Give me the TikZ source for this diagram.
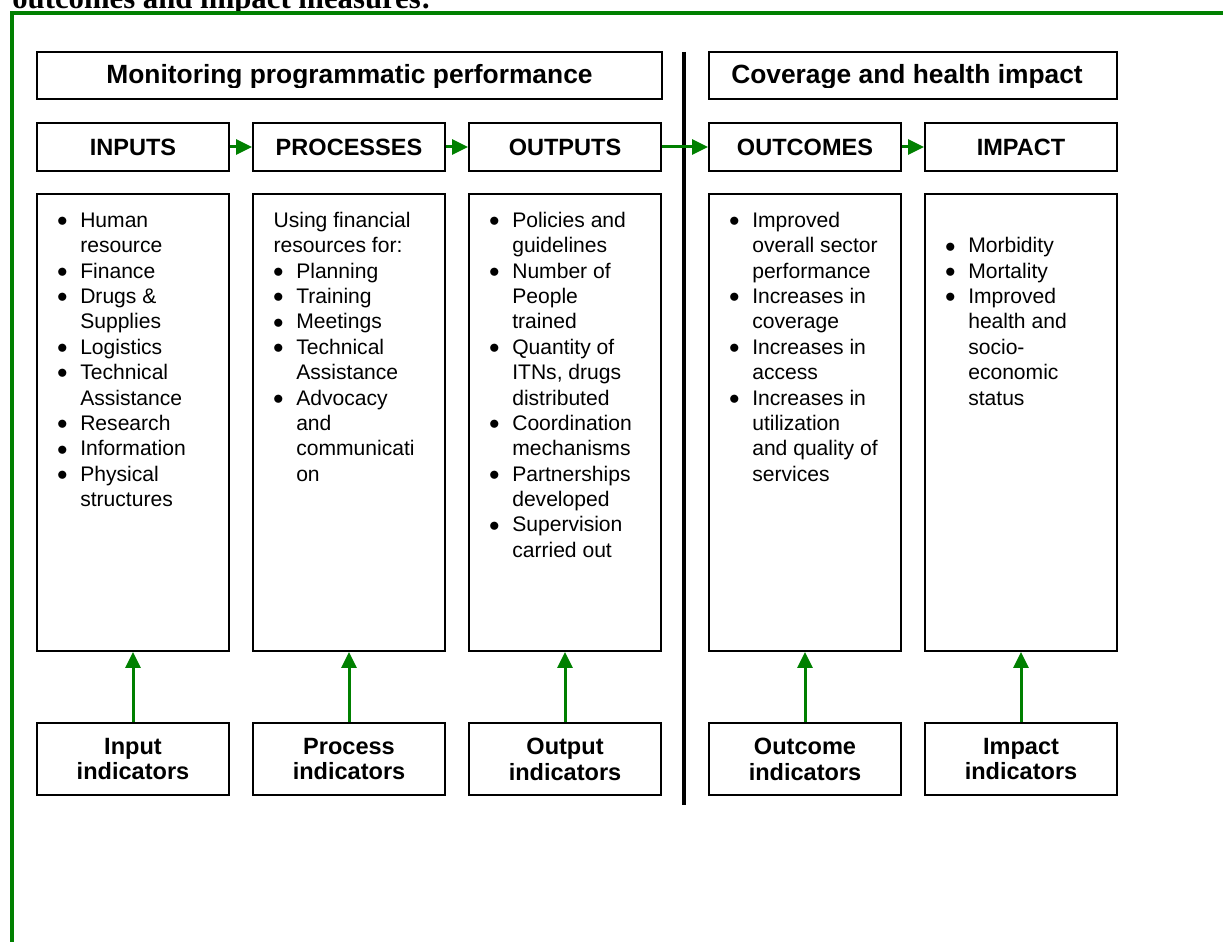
\documentclass[tikz,border=0pt]{standalone}
\usepackage{fontspec}
\setmainfont{Liberation Sans}
\newfontfamily\titlefont{Liberation Serif}
\usetikzlibrary{arrows.meta,positioning}

\definecolor{frgreen}{RGB}{0,128,0}

% bullet lines in the list boxes
\newlength{\bulgap}
\setlength{\bulgap}{12.93pt}
\newcommand{\fl}{\rule{0pt}{10pt}}
\newcommand{\itm}[1]{\makebox[\bulgap][l]{\hspace*{-0.3pt}\raisebox{0.4pt}{$\bullet$}}#1}
\newcommand{\cnt}[1]{\hspace*{\bulgap}#1}

\tikzset{
  % hbox is the style of the stage boxes, lbox of the list boxes below them
  hbox/.style={draw, rectangle, line width=0.04cm, inner sep=0pt,
  minimum width=3.84cm, minimum height=0.96cm,
  font=\fontsize{13.4pt}{14.7pt}\selectfont\bfseries},
  tbox/.style={draw, rectangle, line width=0.04cm, inner sep=0pt,
  minimum height=0.94cm},
  lbox/.style={draw, rectangle, line width=0.04cm, inner sep=0pt,
  minimum width=3.84cm, minimum height=9.14cm},
  ibox/.style={draw, rectangle, line width=0.04cm, inner sep=0pt,
  minimum width=3.84cm, minimum height=1.44cm, align=center,
  font=\fontsize{13.4pt}{14.7pt}\selectfont\bfseries},
  ltext/.style={anchor=north west, inner sep=0pt, align=left,
  font=\fontsize{12pt}{14.45pt}\selectfont},
  flow/.style={frgreen, line width=0.06cm, -{Triangle[length=0.32cm, width=0.3cm]}}}

\begin{document}
\begin{tikzpicture}[x=0.02cm, y=-0.02cm]

\useasboundingbox (0,0) rectangle (1223,942);

% frame and cut title
\node (title) [anchor=base west, inner sep=0pt, font=\titlefont\bfseries\fontsize{17.5pt}{20pt}\selectfont] at (12,9) {outcomes and impact measures:};
\draw [frgreen, line width=0.08cm] (12,960) -- (12,13) -- (1240,13);

% top boxes
\node (mon) [tbox, minimum width=12.5cm] at (349.5,75.5) {};
\node (cov) [tbox, minimum width=8.16cm] at (913,75.5) {};
\begin{scope}
\clip (37,52) rectangle (1117,88);
\node (montext) [anchor=base, inner sep=0pt, font=\fontsize{15pt}{16pt}\selectfont\bfseries] at (349.5,84) {Monitoring programmatic performance};
\node (covtext) [anchor=base, inner sep=0pt, font=\fontsize{15pt}{16pt}\selectfont\bfseries] at (907,84) {Coverage and health impact};
\end{scope}

% divider
\draw [line width=0.08cm] (684,52) -- (684,805);

% stage boxes
\node (inputs) [hbox] at (133,147) {INPUTS};
\node (processes) [hbox] at (349,147) {PROCESSES};
\node (outputs) [hbox] at (565,147) {OUTPUTS};
\node (outcomes) [hbox] at (805,147) {OUTCOMES};
\node (impact) [hbox] at (1021,147) {IMPACT};

\draw [flow] (inputs) -- (processes);
\draw [flow] (processes) -- (outputs);
\draw [flow] (outputs) -- (outcomes);
\draw [flow] (outcomes) -- (impact);

% list boxes
\node (inlist) [lbox] at (133,422.5) {};
\node (prlist) [lbox] at (349,422.5) {};
\node (oplist) [lbox] at (565,422.5) {};
\node (oclist) [lbox] at (805,422.5) {};
\node (imlist) [lbox] at (1021,422.5) {};

% first baselines at 227 (252.5 for impact)
\node (intext) [ltext] at (57.2,209.4) {\fl\itm{Human}\\ \cnt{resource}\\ \itm{Finance}\\ \itm{Drugs \&}\\ \cnt{Supplies}\\ \itm{Logistics}\\ \itm{Technical}\\ \cnt{Assistance}\\ \itm{Research}\\ \itm{Information}\\ \itm{Physical}\\ \cnt{structures}};
\node (prtext) [ltext] at (273.2,209.4) {\fl Using financial\\ resources for:\\ \itm{Planning}\\ \itm{Training}\\ \itm{Meetings}\\ \itm{Technical}\\ \cnt{Assistance}\\ \itm{Advocacy}\\ \cnt{and}\\ \cnt{communicati}\\ \cnt{on}};
\node (optext) [ltext] at (489.2,209.4) {\fl\itm{Policies and}\\ \cnt{guidelines}\\ \itm{Number of}\\ \cnt{People}\\ \cnt{trained}\\ \itm{Quantity of}\\ \cnt{ITNs, drugs}\\ \cnt{distributed}\\ \itm{Coordination}\\ \cnt{mechanisms}\\ \itm{Partnerships}\\ \cnt{developed}\\ \itm{Supervision}\\ \cnt{carried out}};
\node (octext) [ltext] at (729.2,209.4) {\fl\itm{Improved}\\ \cnt{overall sector}\\ \cnt{performance}\\ \itm{Increases in}\\ \cnt{coverage}\\ \itm{Increases in}\\ \cnt{access}\\ \itm{Increases in}\\ \cnt{utilization}\\ \cnt{and quality of}\\ \cnt{services}};
\node (imtext) [ltext] at (945.2,234.9) {\fl\itm{Morbidity}\\ \itm{Mortality}\\ \itm{Improved}\\ \cnt{health and}\\ \cnt{socio-}\\ \cnt{economic}\\ \cnt{status}};

% indicator boxes
\node (inind) [ibox] at (133,759) {Input\\indicators};
\node (prind) [ibox] at (349,759) {Process\\indicators};
\node (opind) [ibox] at (565,759) {Output\\indicators};
\node (ocind) [ibox] at (805,759) {Outcome\\indicators};
\node (imind) [ibox] at (1021,759) {Impact\\indicators};

\draw [flow] (inind) -- (inlist);
\draw [flow] (prind) -- (prlist);
\draw [flow] (opind) -- (oplist);
\draw [flow] (ocind) -- (oclist);
\draw [flow] (imind) -- (imlist);

\end{tikzpicture}
\end{document}
